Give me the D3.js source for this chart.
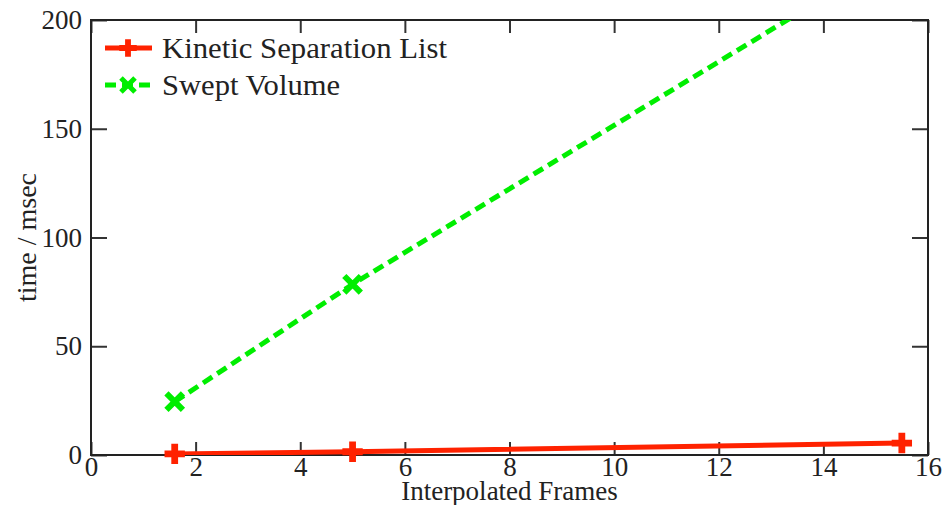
<!DOCTYPE html>
<html>
<head>
<meta charset="utf-8">
<script src="https://cdn.jsdelivr.net/npm/d3@7"></script>
<style>
  body { margin: 0; background: #fff; }
</style>
</head>
<body>
<svg id="chart" width="948" height="505"></svg>
<script>
// data
var frames = [1.6, 5, 15.5];
var kinetic = [0.5, 1.5, 5.5];
var swept = [24.5, 78.5, 232];
var xTicks = [0, 2, 4, 6, 8, 10, 12, 14, 16];
var yTicks = [0, 50, 100, 150, 200];
var seriesNames = ["Kinetic Separation List", "Swept Volume"];

var FONT = "'Liberation Serif', serif";
var svg = d3.select("#chart");
var margin = {left: 91, right: 20, top: 20, bottom: 50};
var W = 948, H = 505;

var x = d3.scaleLinear().domain([0, 16]).range([margin.left, W - margin.right]);
var y = d3.scaleLinear().domain([0, 200]).range([H - margin.bottom, margin.top]);

svg.append("clipPath").attr("id", "plotclip")
  .append("rect")
  .attr("x", x(0)).attr("y", y(200))
  .attr("width", x(16) - x(0)).attr("height", y(0) - y(200));

// axes, ticks pointing inward
var fmt = d3.format("d");
function styleAxis(g) {
  g.select(".domain").remove();
  g.attr("font-family", null).attr("font-size", null).style("font-family", FONT);
}
svg.append("g").attr("transform", "translate(0," + y(0) + ")")
  .call(d3.axisBottom(x).tickValues(xTicks).tickSize(-13).tickPadding(2).tickFormat(fmt))
  .call(styleAxis);
svg.append("g").attr("transform", "translate(0," + y(200) + ")")
  .call(d3.axisTop(x).tickValues(xTicks).tickSize(-13).tickFormat(""))
  .call(styleAxis);
svg.append("g").attr("transform", "translate(" + x(0) + ",0)")
  .call(d3.axisLeft(y).tickValues(yTicks).tickSize(-16).tickPadding(9).tickFormat(fmt))
  .call(styleAxis);
svg.append("g").attr("transform", "translate(" + x(16) + ",0)")
  .call(d3.axisRight(y).tickValues(yTicks).tickSize(-16).tickFormat(""))
  .call(styleAxis);

svg.selectAll(".tick line").attr("stroke", "#333").attr("stroke-width", 2);
svg.selectAll(".tick text").style("font-family", FONT).style("font-size", "27px").attr("fill", "#222");

svg.append("rect")
  .attr("x", x(0)).attr("y", y(200))
  .attr("width", x(16) - x(0)).attr("height", y(0) - y(200))
  .attr("fill", "none").attr("stroke", "#222").attr("stroke-width", 2);

// axis titles
svg.append("text").attr("x", (x(0) + x(16)) / 2).attr("y", 500)
  .attr("text-anchor", "middle").style("font-family", FONT).style("font-size", "27px")
  .attr("fill", "#222").text("Interpolated Frames");
svg.append("text").attr("transform", "translate(36," + y(100) + ") rotate(-90)")
  .attr("text-anchor", "middle").style("font-family", FONT).style("font-size", "28px")
  .attr("fill", "#222").text("time / msec");

var line = d3.line().x(d => x(d[0])).y(d => y(d[1]));
var plot = svg.append("g").attr("clip-path", "url(#plotclip)");

var greenPts = frames.map((f, i) => [f, swept[i]]);
var redPts = frames.map((f, i) => [f, kinetic[i]]);
var inside = d => d[1] <= 200;

plot.append("path").datum(greenPts).attr("d", line)
  .attr("fill", "none").attr("stroke", "#00ee00").attr("stroke-width", 5)
  .attr("stroke-dasharray", "11,6");
plot.append("path").datum(redPts).attr("d", line)
  .attr("fill", "none").attr("stroke", "#ff2200").attr("stroke-width", 5);

var cross = d3.symbol().type(d3.symbolCross).size(230);
var xmark = d3.symbol().type(d3.symbolX).size(180);

svg.selectAll(".gm").data(greenPts.filter(inside)).enter().append("path")
  .attr("transform", d => "translate(" + x(d[0]) + "," + y(d[1]) + ")")
  .attr("d", xmark).attr("fill", "none").attr("stroke", "#00ee00").attr("stroke-width", 6);
svg.selectAll(".rm").data(redPts.filter(inside)).enter().append("path")
  .attr("transform", d => "translate(" + x(d[0]) + "," + y(d[1]) + ")")
  .attr("d", cross).attr("fill", "#ff2200");

// legend
var legend = svg.append("g");
var legY = [48, 85];
var legW = [285, 178];
var colors = ["#ff2200", "#00ee00"];
seriesNames.forEach(function(name, i) {
  legend.append("line").attr("x1", 105).attr("x2", 152).attr("y1", legY[i]).attr("y2", legY[i])
    .attr("stroke", colors[i]).attr("stroke-width", 5)
    .attr("stroke-dasharray", i === 1 ? "11,6" : null);
  if (i === 0) {
    legend.append("path").attr("transform", "translate(128," + legY[i] + ")")
      .attr("d", d3.symbol().type(d3.symbolCross).size(170)).attr("fill", colors[i]);
  } else {
    legend.append("path").attr("transform", "translate(128," + legY[i] + ")")
      .attr("d", d3.symbol().type(d3.symbolX).size(130)).attr("fill", "none")
      .attr("stroke", colors[i]).attr("stroke-width", 5);
  }
  legend.append("text").attr("x", 162).attr("y", legY[i]).attr("dy", "0.33em")
    .style("font-family", FONT).style("font-size", "29px").attr("fill", "#222")
    .attr("textLength", legW[i]).attr("lengthAdjust", "spacingAndGlyphs")
    .text(name);
});
</script>
</body>
</html>
